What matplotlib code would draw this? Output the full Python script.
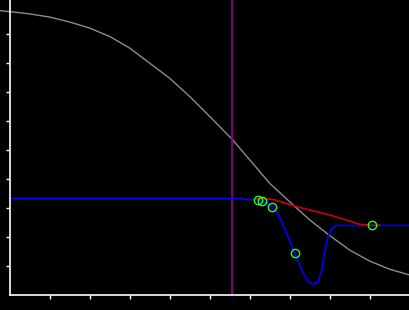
import numpy as np
import matplotlib
matplotlib.use("Agg")
import matplotlib.pyplot as plt

# grey reference curve
grey_x = [-0.26, -0.01, 0.49, 0.99, 1.49, 1.99, 2.49, 2.99, 3.49, 3.99, 4.49,
          4.87, 5.55, 5.99, 6.49, 7.12, 7.49, 7.99, 8.49, 8.99, 9.49, 9.99]
grey_y = [0.980, 0.977, 0.969, 0.958, 0.941, 0.920, 0.891, 0.851, 0.799, 0.747,
          0.684, 0.632, 0.537, 0.466, 0.385, 0.305, 0.259, 0.205, 0.155, 0.117,
          0.089, 0.069]

# blue trace
blue_x = [0.0, 5.79, 5.82, 6.12, 6.2, 6.3, 6.55, 6.74, 6.91, 7.12, 7.29, 7.45,
          7.58, 7.7, 7.79, 7.87, 7.95, 8.04, 8.16, 8.37, 9.99]
blue_y = [0.333, 0.333, 0.330, 0.329, 0.328, 0.324, 0.304, 0.269, 0.213, 0.144,
          0.086, 0.046, 0.037, 0.046, 0.086, 0.155, 0.201, 0.230, 0.240, 0.240,
          0.240]

# red trace
red_x = [6.17, 6.32, 6.62, 7.24, 7.99, 8.49, 8.74, 9.05, 9.24]
red_y = [0.331, 0.333, 0.328, 0.302, 0.276, 0.255, 0.244, 0.240, 0.240]

# green markers
pts_x = [6.2, 6.3, 6.55, 7.12, 9.05]
pts_y = [0.328, 0.324, 0.304, 0.144, 0.240]

vline_x = 5.54

fig = plt.figure(figsize=(4.1, 3.1), dpi=100, facecolor='black')
ax = fig.add_axes([10.3 / 410, 15 / 310, 1 - 10.3 / 410, 295 / 310])
ax.set_facecolor('black')

ax.plot(grey_x, grey_y, color='#8c8c8c', lw=1.0, clip_on=False)
ax.axvline(vline_x, color='#8b008b', lw=1.3)
ax.plot(blue_x, blue_y, color='#0000ff', lw=1.2)
ax.plot(red_x, red_y, color='#cc0000', lw=1.2)
ax.plot(pts_x, pts_y, 'o', mfc='none', mec='#22ff22', ms=6, mew=1.0)

ax.set_xlim(0, 10)
ax.set_ylim(0, 1.017)
ax.set_xticks(np.arange(1, 10))
ax.set_yticks(np.arange(1, 10) / 10)
ax.set_xticklabels([])
ax.set_yticklabels([])
ax.tick_params(colors='white', direction='out', length=3, width=1)
for s in ['top', 'right']:
    ax.spines[s].set_visible(False)
for s in ['left', 'bottom']:
    ax.spines[s].set_color('white')
    ax.spines[s].set_linewidth(1.2)

fig.savefig('out.png', dpi=100, facecolor='black')
